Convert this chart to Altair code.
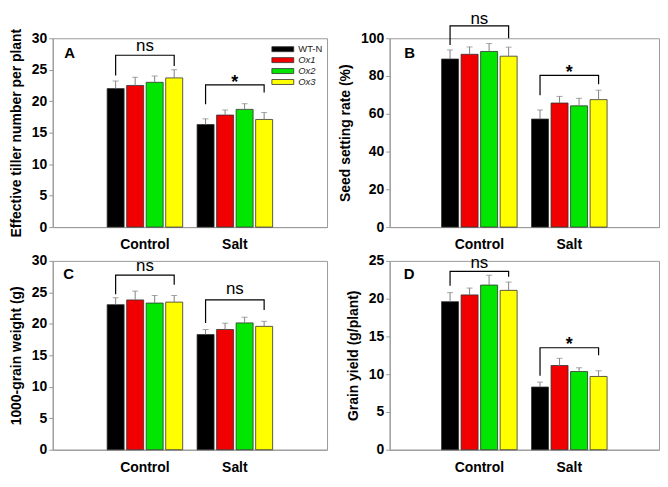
import altair as alt
import pandas as pd

FONT = "Liberation Sans"

groups = ["Control", "Salt"]
genotypes = ["WT-N", "Ox1", "Ox2", "Ox3"]
colors = ["#000000", "#f00000", "#00e600", "#ffff00"]

# ---- Panel A: effective tiller number per plant
a_ctrl = [22.0, 22.5, 23.0, 23.7]
a_salt = [16.3, 17.8, 18.7, 17.1]
a_ctrl_err = [1.2, 1.3, 1.0, 1.3]
a_salt_err = [0.9, 0.8, 0.9, 1.1]
a_br_top = [27.3, 22.6]
a_br_left = [24.1, 19.5]
a_br_right = [25.6, 21.4]
a_br_label = ["ns", "*"]
a_br_label_y = [28.05, 22.05]
a_ticks = [0, 5, 10, 15, 20, 25, 30]

# ---- Panel B: seed setting rate (%)
b_ctrl = [89.0, 91.5, 93.0, 90.5]
b_salt = [57.2, 65.7, 64.2, 67.5]
b_ctrl_err = [4.8, 3.9, 4.2, 4.8]
b_salt_err = [4.8, 3.5, 4.0, 5.0]
b_br_top = [106.6, 80.3]
b_br_left = [96.4, 69.8]
b_br_right = [100.0, 75.6]
b_br_label = ["ns", "*"]
b_br_label_y = [107.6, 78.7]
b_ticks = [0, 20, 40, 60, 80, 100]

# ---- Panel C: 1000-grain weight (g)
c_ctrl = [23.05, 23.8, 23.3, 23.45]
c_salt = [18.3, 19.1, 20.15, 19.6]
c_ctrl_err = [1.1, 1.4, 1.2, 1.05]
c_salt_err = [0.8, 1.0, 0.9, 0.8]
c_br_top = [27.75, 23.8]
c_br_left = [24.7, 20.15]
c_br_right = [26.2, 22.2]
c_br_label = ["ns", "ns"]
c_br_label_y = [28.4, 24.7]
c_ticks = [0, 5, 10, 15, 20, 25, 30]

# ---- Panel D: grain yield (g/plant)
d_ctrl = [19.6, 20.5, 21.8, 21.1]
d_salt = [8.3, 11.15, 10.35, 9.7]
d_ctrl_err = [1.2, 0.9, 1.3, 1.1]
d_salt_err = [0.65, 0.95, 0.5, 0.75]
d_br_top = [23.6, 13.5]
d_br_left = [21.7, 9.8]
d_br_right = [22.9, 12.5]
d_br_label = ["ns", "*"]
d_br_label_y = [24.0, 13.2]
d_ticks = [0, 5, 10, 15, 20, 25]


def panel(ctrl, salt, ctrl_err, salt_err, br_top, br_left, br_right, br_label,
          br_label_y, ticks, ytitle, letter, width, pad_outer, letter_x, letter_y,
          show_legend=False):
    rows = []
    for g, means, errs in [(groups[0], ctrl, ctrl_err), (groups[1], salt, salt_err)]:
        for k, geno in enumerate(genotypes):
            rows.append({"group": g, "geno": geno, "mean": means[k],
                         "upper": means[k] + errs[k]})
    bars_df = pd.DataFrame(rows)

    br_rows = []
    lab_rows = []
    for i, g in enumerate(groups):
        br_rows += [
            {"group": g, "geno": genotypes[0], "y": br_left[i], "ord": 0},
            {"group": g, "geno": genotypes[0], "y": br_top[i], "ord": 1},
            {"group": g, "geno": genotypes[-1], "y": br_top[i], "ord": 2},
            {"group": g, "geno": genotypes[-1], "y": br_right[i], "ord": 3},
        ]
        lab_rows.append({"group": g, "label": br_label[i], "y": br_label_y[i]})
    br_df = pd.DataFrame(br_rows)
    lab_df = pd.DataFrame(lab_rows)

    ysc = alt.Scale(domain=[ticks[0], ticks[-1]], nice=False, zero=True)
    yaxis = alt.Axis(title=ytitle, values=ticks, grid=False, labelOverlap=False,
                     tickCount=len(ticks))
    xenc = alt.X("group:N", sort=groups,
                 scale=alt.Scale(paddingInner=0.16, paddingOuter=pad_outer),
                 axis=alt.Axis(title=None, ticks=False, labelPadding=11,
                               labelAngle=0))
    xoff = alt.XOffset("geno:N", sort=genotypes,
                       scale=alt.Scale(paddingInner=0.13, paddingOuter=0))

    if show_legend:
        legend = alt.Legend(
            title=None, orient="none", legendX=226, legendY=5.5,
            symbolType="M-2.2,-0.5H2.2V0.5H-2.2Z", symbolSize=100,
            symbolStrokeColor="#333333", symbolStrokeWidth=0.8,
            labelFont=FONT, labelFontSize=9.5, labelColor="#222222",
            labelFontStyle=alt.ExprRef("datum.label == 'WT-N' ? 'normal' : 'italic'"),
            labelOffset=10, rowPadding=1, padding=0)
    else:
        legend = None

    bars = alt.Chart(bars_df).mark_bar(stroke="#333333", strokeWidth=0.8).encode(
        x=xenc, xOffset=xoff,
        y=alt.Y("mean:Q", scale=ysc, axis=yaxis),
        color=alt.Color("geno:N", sort=genotypes,
                        scale=alt.Scale(domain=genotypes, range=colors),
                        legend=legend),
    )
    err = alt.Chart(bars_df).mark_rule(color="#808080", strokeWidth=1).encode(
        x=xenc, xOffset=xoff, y=alt.Y("mean:Q", axis=yaxis), y2="upper:Q")
    cap = alt.Chart(bars_df).mark_tick(color="#808080", thickness=1, size=6).encode(
        x=xenc, xOffset=xoff, y=alt.Y("upper:Q", axis=yaxis))
    brk = alt.Chart(br_df).mark_line(color="black", strokeWidth=1.2).encode(
        x=xenc, xOffset=xoff, y=alt.Y("y:Q", axis=yaxis), order="ord:Q",
        detail="group:N")
    lab_ns = alt.Chart(lab_df).transform_filter("datum.label == 'ns'").mark_text(
        font=FONT, fontSize=17, color="black", baseline="alphabetic").encode(
        x=xenc, y=alt.Y("y:Q", axis=yaxis), text="label:N")
    lab_st = alt.Chart(lab_df).transform_filter("datum.label != 'ns'").mark_text(
        font=FONT, fontSize=18, fontWeight="bold", color="black",
        baseline="alphabetic").encode(
        x=xenc, y=alt.Y("y:Q", axis=yaxis), text="label:N")
    let = alt.Chart(pd.DataFrame({"t": [letter]})).mark_text(
        font=FONT, fontSize=15, fontWeight="bold", color="black",
        align="center", baseline="middle").encode(
        x=alt.value(letter_x), y=alt.value(letter_y), text="t:N")

    return alt.layer(bars, err, cap, brk, lab_ns, lab_st, let).properties(
        width=width, height=190)


pA = panel(a_ctrl, a_salt, a_ctrl_err, a_salt_err, a_br_top, a_br_left, a_br_right,
           a_br_label, a_br_label_y, a_ticks, "Effective tiller number per plant",
           "A", 276, 0.605, 17, 14.5, show_legend=True)
pB = panel(b_ctrl, b_salt, b_ctrl_err, b_salt_err, b_br_top, b_br_left, b_br_right,
           b_br_label, b_br_label_y, b_ticks, "Seed setting rate (%)",
           "B", 271, 0.577, 20, 14.5)
pC = panel(c_ctrl, c_salt, c_ctrl_err, c_salt_err, c_br_top, c_br_left, c_br_right,
           c_br_label, c_br_label_y, c_ticks, "1000-grain weight (g)",
           "C", 276, 0.605, 16, 13)
pD = panel(d_ctrl, d_salt, d_ctrl_err, d_salt_err, d_br_top, d_br_left, d_br_right,
           d_br_label, d_br_label_y, d_ticks, "Grain yield (g/plant)",
           "D", 271, 0.577, 19.5, 13)

chart = alt.concat(pA, pB, pC, pD, columns=2,
                   spacing={"row": 34, "column": 63}, bounds="flush").resolve_legend(
    color="independent").properties(padding=0).configure_view(
    stroke="#999999", strokeWidth=1).configure_axis(
    domainColor="#999999", tickColor="#999999", labelFont=FONT, titleFont=FONT,
    labelFontWeight="bold", titleFontWeight="bold", labelFontSize=14,
    titleFontSize=14, labelColor="black", titleColor="black", grid=False).configure_axisY(
    tickSize=4, labelPadding=2, titlePadding=8)

chart.save("out.html", embed_options={"renderer": "svg", "actions": False})
